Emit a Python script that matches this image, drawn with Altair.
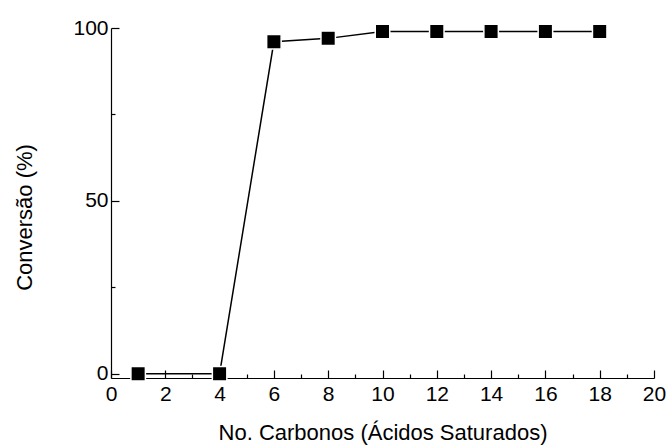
import altair as alt
import pandas as pd

carbons = [1, 4, 6, 8, 10, 12, 14, 16, 18]
conversion = [0, 0, 96, 97, 99, 99, 99, 99, 99]

x_major = [0, 2, 4, 6, 8, 10, 12, 14, 16, 18, 20]
x_minor = [1, 3, 5, 7, 9, 11, 13, 15, 17, 19]
y_major = [0, 50, 100]
y_minor = [25, 75]

df = pd.DataFrame({"c": carbons, "v": conversion})

FONT = "Liberation Sans"
xs = alt.Scale(domain=[0, 20], nice=False, zero=False)
ys = alt.Scale(domain=[-1.25, 100], nice=False, zero=False)

base = alt.Chart(df)

line = base.mark_line(color="black", strokeWidth=1.5).encode(
    x=alt.X("c:Q", scale=xs, axis=alt.Axis(
        values=x_major, title="No. Carbonos (Ácidos Saturados)", orient="bottom",
        tickSize=alt.ExprRef("-8"), tickColor="black", tickWidth=1.2,
        domainColor="black", domainWidth=1.2, grid=False,
        labelFont=FONT, labelFontSize=21, labelColor="black", labelPadding=13,
        titleFont=FONT, titleFontSize=22, titleFontWeight="normal", titleColor="black",
        titlePadding=18, labelFlush=False)),
    y=alt.Y("v:Q", scale=ys, axis=alt.Axis(
        values=y_major, title="Conversão (%)", orient="left",
        tickSize=alt.ExprRef("-8"), tickColor="black", tickWidth=1.2,
        domainColor="black", domainWidth=1.2, grid=False,
        labelFont=FONT, labelFontSize=21, labelColor="black", labelPadding=11,
        titleFont=FONT, titleFontSize=22, titleFontWeight="normal", titleColor="black",
        titlePadding=36, titleY=189, labelFlush=False)),
)

minor = base.mark_point(opacity=0).encode(
    x=alt.X("c:Q", scale=xs, axis=alt.Axis(
        values=x_minor, title=None, labels=False, domain=False, orient="bottom",
        tickSize=alt.ExprRef("-4"), tickColor="black", tickWidth=1.2, grid=False)),
    y=alt.Y("v:Q", scale=ys, axis=alt.Axis(
        values=y_minor, title=None, labels=False, domain=False, orient="left",
        tickSize=alt.ExprRef("-4"), tickColor="black", tickWidth=1.2, grid=False)),
)

points = base.mark_point(shape="square", filled=True, size=210, color="black",
                         stroke="white", strokeWidth=1.5, opacity=1).encode(
    x=alt.X("c:Q", scale=xs, axis=None), y=alt.Y("v:Q", scale=ys, axis=None))

chart = alt.layer(minor, line, points).resolve_axis(x="independent", y="independent").properties(
    width=543, height=350,
    autosize=alt.AutoSizeParams(type="none"),
    padding={"left": 111, "top": 28, "right": 13, "bottom": 67},
).configure_view(stroke=None)

chart.save("out.html", embed_options={"renderer": "svg", "actions": False})
